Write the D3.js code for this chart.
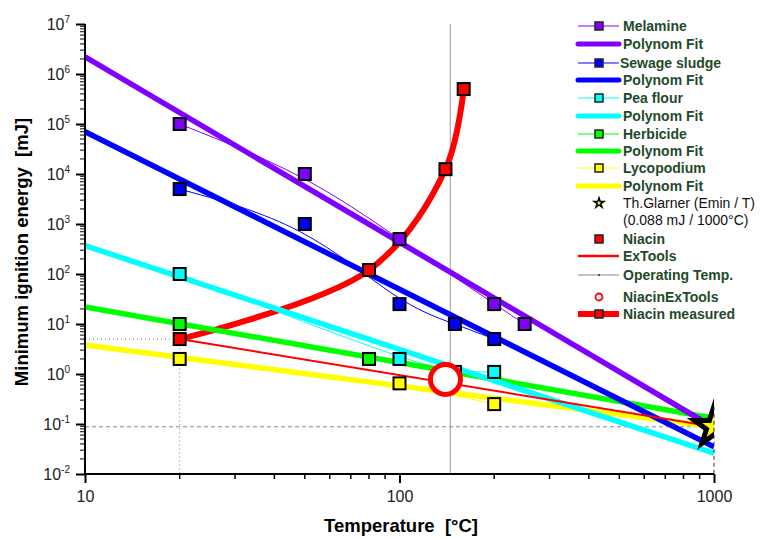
<!DOCTYPE html>
<html>
<head>
<meta charset="utf-8">
<script src="https://cdn.jsdelivr.net/npm/d3@7"></script>
<style>
  body { margin: 0; background: #fff; }
  svg { font-family: "Liberation Sans", Arial, sans-serif; }
</style>
</head>
<body>
<script>
// measured points (temperature in °C, energy in mJ)
const melT = [20, 50, 100, 200, 250];
const melE = [1e5, 1e4, 500, 25, 10];
const sewT = [20, 50, 100, 150, 200];
const sewE = [5000, 1000, 25, 10, 5];
const peaT = [20, 100, 150, 200];
const peaE = [100, 2, 1.1, 1.1];
const herbT = [20, 80];
const herbE = [10, 2];
const lycT = [20, 100, 200];
const lycE = [2, 0.65, 0.25];
const niaT = [20, 80, 140, 160];
const niaE = [5, 120, 12500, 500000];

// polynom fits, value at 10 and at 1000 °C
const fitT = [10, 1000];
const melFit = [2.2e6, 0.085];
const sewFit = [7e4, 0.035];
const peaFit = [370, 0.026];
const herbFit = [22, 0.13];
const lycFit = [3.8, 0.088];

const exToolsT = [20, 1000];
const exToolsE = [5, 0.088];
const glarner = [1000, 0.088];
const operatingT = 145;
const niacinExTools = [140, 0.78];

const yTicks = [1e-2, 1e-1, 1, 10, 100, 1e3, 1e4, 1e5, 1e6, 1e7];
const xTicks = [10, 100, 1000];

const W = 760, H = 538;
const pLeft = 85, pRight = 714, pTop = 24, pBottom = 474;
const txtColor = "#1f4a2a";

const svg = d3.select("body").append("svg").attr("width", W).attr("height", H);

const x = d3.scaleLog().domain([10, 1000]).range([pLeft, pRight]);
const y = d3.scaleLog().domain([1e-2, 1e7]).range([pBottom, pTop]);

svg.append("clipPath").attr("id", "plot")
  .append("rect").attr("x", pLeft).attr("y", pTop - 2)
  .attr("width", pRight - pLeft).attr("height", pBottom - pTop + 2);

const plot = svg.append("g").attr("clip-path", "url(#plot)");

// reference lines
plot.append("line")
  .attr("x1", x(operatingT)).attr("x2", x(operatingT))
  .attr("y1", pTop).attr("y2", pBottom)
  .attr("stroke", "#999").attr("stroke-width", 1);

plot.append("path")
  .attr("d", `M${pLeft},${y(niaE[0])}H${x(niaT[0])}V${pBottom}`)
  .attr("fill", "none").attr("stroke", "#777").attr("stroke-width", 1)
  .attr("stroke-dasharray", "1,3");

plot.append("path")
  .attr("d", `M${pLeft},${y(glarner[1])}H${x(glarner[0])}`)
  .attr("fill", "none").attr("stroke", "#888").attr("stroke-width", 1)
  .attr("stroke-dasharray", "4,3");
svg.append("path")
  .attr("d", `M${x(glarner[0])},${y(glarner[1]) - 20}V${pBottom}`)
  .attr("fill", "none").attr("stroke", "#333").attr("stroke-width", 1)
  .attr("stroke-dasharray", "4,3");

const line = d3.line().x(d => x(d[0])).y(d => y(d[1]));
const zip = (a, b) => a.map((v, i) => [v, b[i]]);

// niacin measured
plot.append("path")
  .attr("d", line.curve(d3.curveCatmullRom.alpha(0.5))(zip(niaT, niaE)))
  .attr("fill", "none").attr("stroke", "#ff0000").attr("stroke-width", 6);
line.curve(d3.curveLinear);

const series = [
  { t: melT, e: melE, fit: melFit, color: "#8000ff" },
  { t: sewT, e: sewE, fit: sewFit, color: "#0000ff" },
  { t: peaT, e: peaE, fit: peaFit, color: "#00ffff" },
  { t: herbT, e: herbE, fit: herbFit, color: "#00ff00" },
  { t: lycT, e: lycE, fit: lycFit, color: "#ffff00" }
];

// thin data lines
series.forEach(s => {
  plot.append("path")
    .attr("d", d3.line().x(d => x(d[0])).y(d => y(d[1])).curve(d3.curveBasis)(zip(s.t, s.e)))
    .attr("fill", "none").attr("stroke", s.color).attr("stroke-width", 1);
});

// fits
series.slice().reverse().forEach(s => {
  plot.append("path")
    .attr("d", line(zip(fitT, s.fit)))
    .attr("fill", "none").attr("stroke", s.color).attr("stroke-width", 5.5);
});

// ExTools
plot.append("path")
  .attr("d", line(zip(exToolsT, exToolsE)))
  .attr("fill", "none").attr("stroke", "#ff0000").attr("stroke-width", 2);

// markers
const sq = 12;
function squares(t, e, color) {
  plot.selectAll(null).data(zip(t, e)).join("rect")
    .attr("x", d => x(d[0]) - sq / 2).attr("y", d => y(d[1]) - sq / 2)
    .attr("width", sq).attr("height", sq)
    .attr("fill", color).attr("stroke", "#000").attr("stroke-width", 2);
}
series.forEach(s => squares(s.t, s.e, s.color));
squares(niaT, niaE, "#ff0000");

plot.append("circle")
  .attr("cx", x(niacinExTools[0])).attr("cy", y(niacinExTools[1])).attr("r", 15)
  .attr("fill", "#fff").attr("stroke", "#ff0000").attr("stroke-width", 5);

plot.append("path")
  .attr("d", d3.symbol(d3.symbolStar, 480)())
  .attr("transform", `translate(${x(glarner[0])},${y(glarner[1])})`)
  .attr("fill", "#ffff00").attr("stroke", "#000").attr("stroke-width", 5)
  .attr("stroke-linejoin", "miter");

// axes
const minor = [];
for (let p = -2; p < 7; p++) for (let k = 2; k <= 9; k++) minor.push(k * Math.pow(10, p));
const minorX = [];
for (let p = 1; p < 3; p++) for (let k = 2; k <= 9; k++) minorX.push(k * Math.pow(10, p));

const yAxis = svg.append("g").attr("transform", `translate(${pLeft},0)`);
yAxis.call(d3.axisLeft(y).tickValues(yTicks).tickSize(9).tickFormat(""));
yAxis.selectAll(null).data(minor).join("line")
  .attr("x1", 0).attr("x2", -5).attr("y1", d => y(d)).attr("y2", d => y(d))
  .attr("stroke", "#000");
yAxis.select(".domain").attr("stroke-width", 2).attr("d", `M0,${pTop}V${pBottom}`);
yAxis.selectAll(".tick line").attr("stroke-width", 2);

const yLab = svg.append("g");
yTicks.forEach(v => {
  const t = yLab.append("text")
    .attr("x", 70).attr("y", y(v) + 6)
    .attr("text-anchor", "end").attr("font-size", 16).attr("fill", "#222");
  t.append("tspan").text("10");
  t.append("tspan").attr("dy", -7).attr("font-size", 10).text(Math.round(Math.log10(v)));
});

const xAxis = svg.append("g").attr("transform", `translate(0,${pBottom})`);
xAxis.call(d3.axisBottom(x).tickValues(xTicks).tickSize(9).tickFormat(d3.format("d")));
xAxis.selectAll(null).data(minorX).join("line")
  .attr("x1", d => x(d)).attr("x2", d => x(d)).attr("y1", 0).attr("y2", 5)
  .attr("stroke", "#000").attr("stroke-width", 1.5);
xAxis.select(".domain").attr("stroke-width", 2).attr("d", `M${pLeft},0H${pRight}`);
xAxis.selectAll(".tick line").attr("stroke-width", 2);
xAxis.selectAll(".tick text")
  .attr("font-family", "Liberation Sans, Arial, sans-serif")
  .attr("font-size", 16).attr("fill", "#222").attr("dy", "1em");

svg.append("text")
  .attr("transform", `translate(28,${(pTop + pBottom) / 2 + 3}) rotate(-90)`)
  .attr("text-anchor", "middle").attr("font-weight", "bold").attr("font-size", 18.5)
  .text("Minimum ignition energy \u00a0[mJ]");

svg.append("text")
  .attr("x", 401).attr("y", 532)
  .attr("text-anchor", "middle").attr("font-weight", "bold").attr("font-size", 18.5)
  .text("Temperature \u00a0[°C]");

// legend
const legend = [
  { label: "Melamine", y: 26, color: "#8000ff", type: "data" },
  { label: "Polynom Fit", y: 44, color: "#8000ff", type: "fit" },
  { label: "Sewage sludge", y: 63, color: "#0000ff", type: "data", dx: -3 },
  { label: "Polynom Fit", y: 80, color: "#0000ff", type: "fit" },
  { label: "Pea flour", y: 98, color: "#00ffff", type: "data" },
  { label: "Polynom Fit", y: 116, color: "#00ffff", type: "fit" },
  { label: "Herbicide", y: 134, color: "#00ff00", type: "data" },
  { label: "Polynom Fit", y: 151, color: "#00ff00", type: "fit" },
  { label: "Lycopodium", y: 168, color: "#ffff00", type: "data" },
  { label: "Polynom Fit", y: 186, color: "#ffff00", type: "fit" },
  { label: "Th.Glarner (Emin / T)", label2: "(0.088 mJ / 1000°C)", y: 203, type: "star" },
  { label: "Niacin", y: 239, color: "#ff0000", type: "square" },
  { label: "ExTools", y: 256, color: "#ff0000", type: "ext" },
  { label: "Operating Temp.", y: 275, color: "#888", type: "op" },
  { label: "NiacinExTools", y: 297, color: "#ff0000", type: "circle" },
  { label: "Niacin measured", y: 314, color: "#ff0000", type: "meas" }
];
const lx0 = 578, lx1 = 619, lcx = 599, ltx = 623;
const lg = svg.append("g");
legend.forEach(d => {
  const g = lg.append("g").attr("transform", `translate(0,${d.y})`);
  if (d.type === "data" || d.type === "meas") {
    g.append("line").attr("x1", lx0).attr("x2", lx1)
      .attr("stroke", d.color).attr("stroke-width", d.type === "meas" ? 6 : 1);
    g.append("rect").attr("x", lcx - 4).attr("y", -4).attr("width", 8).attr("height", 8)
      .attr("fill", d.color).attr("stroke", "#222").attr("stroke-width", 1.5);
  } else if (d.type === "fit") {
    g.append("line").attr("x1", lx0).attr("x2", lx1)
      .attr("stroke", d.color).attr("stroke-width", 5).attr("stroke-linecap", "round");
  } else if (d.type === "star") {
    g.append("path").attr("d", d3.symbol(d3.symbolStar, 30)())
      .attr("transform", `translate(${lcx},0)`)
      .attr("fill", "#ffff00").attr("stroke", "#000").attr("stroke-width", 1.5);
  } else if (d.type === "square") {
    g.append("rect").attr("x", lcx - 4).attr("y", -4).attr("width", 8).attr("height", 8)
      .attr("fill", d.color).attr("stroke", "#222").attr("stroke-width", 1.5);
  } else if (d.type === "ext") {
    g.append("line").attr("x1", lx0).attr("x2", lx1)
      .attr("stroke", d.color).attr("stroke-width", 2.5);
  } else if (d.type === "op") {
    g.append("line").attr("x1", lx0).attr("x2", lx1)
      .attr("stroke", d.color).attr("stroke-width", 1);
    g.append("circle").attr("cx", lcx).attr("r", 1).attr("fill", "#333");
  } else if (d.type === "circle") {
    g.append("circle").attr("cx", lcx).attr("r", 3.5)
      .attr("fill", "#fff").attr("stroke", d.color).attr("stroke-width", 1.8);
  }
  const star = d.type === "star";
  g.append("text").attr("x", ltx + (d.dx || 0)).attr("y", 5)
    .attr("font-size", 14)
    .attr("font-weight", star ? "normal" : "bold")
    .attr("fill", star ? "#111" : txtColor)
    .text(d.label);
  if (d.label2) {
    g.append("text").attr("x", ltx).attr("y", 22).attr("font-size", 14)
      .attr("fill", "#111").text(d.label2);
  }
});
</script>
</body>
</html>
